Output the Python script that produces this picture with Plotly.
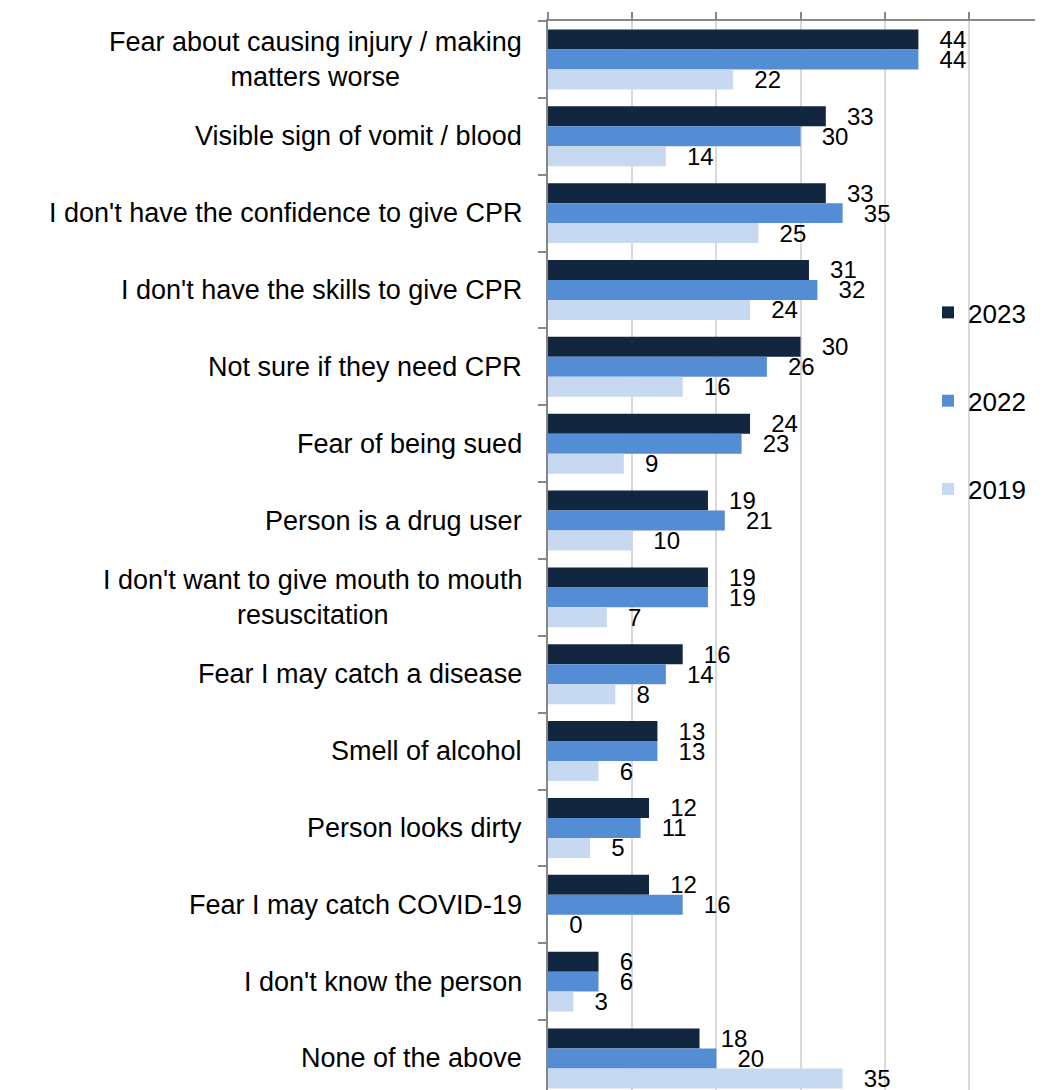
import plotly.graph_objects as go

categories = [
    "Fear about causing injury / making<br>matters worse",
    "Visible sign of vomit / blood",
    "I don't have the confidence to give CPR",
    "I don't have the skills to give CPR",
    "Not sure if they need CPR",
    "Fear of being sued",
    "Person is a drug user",
    "I don't want to give mouth to mouth<br>resuscitation",
    "Fear I may catch a disease",
    "Smell of alcohol",
    "Person looks dirty",
    "Fear I may catch COVID-19",
    "I don't know the person",
    "None of the above",
]
v2023 = [44, 33, 33, 31, 30, 24, 19, 19, 16, 13, 12, 12, 6, 18]
v2022 = [44, 30, 35, 32, 26, 23, 21, 19, 14, 13, 11, 16, 6, 20]
v2019 = [22, 14, 25, 24, 16, 9, 10, 7, 8, 6, 5, 0, 3, 35]
series = [("2023", v2023, "#13263F"), ("2022", v2022, "#548DD4"), ("2019", v2019, "#C6D9F1")]

FONT = "Liberation Sans, Arial, sans-serif"
ypos = list(range(len(categories)))

fig = go.Figure()
for name, vals, col in series:
    fig.add_trace(go.Bar(
        x=vals, y=ypos, orientation="h", name=name, legendgroup=name,
        marker=dict(color=col, line=dict(width=0)),
        text=vals, texttemplate="\u00a0\u00a0\u2009%{x}", textposition="outside",
        constraintext="none",
        textfont=dict(family=FONT, size=24, color="black"),
        outsidetextfont=dict(family=FONT, size=24, color="black"),
        cliponaxis=False,
    ))

for i, c in enumerate(categories):
    fig.add_annotation(
        x=0, xref="paper", y=i, yref="y", text=c, showarrow=False,
        xanchor="right", yanchor="middle", align="center", xshift=-24,
        font=dict(family=FONT, size=27, color="black"),
    )

n = len(categories)
# the page body has an 8px default margin, so the figure is sized to fill the rest
fig.update_layout(
    width=1035, height=1082,
    margin=dict(l=540, r=0, t=13, b=0, autoexpand=False),
    plot_bgcolor="white", paper_bgcolor="white",
    barmode="group", bargap=0.22, bargroupgap=0,
    font=dict(family=FONT, size=24, color="black"),
    showlegend=True,
    legend=dict(
        x=0.7677, xanchor="left", y=0.7493, yanchor="top",
        bgcolor="rgba(0,0,0,0)", font=dict(family=FONT, size=26, color="black"),
        tracegroupgap=51.5, traceorder="grouped",
    ),
    xaxis=dict(
        side="top", range=[0, 58.8], tick0=0, dtick=10,
        showgrid=True, gridcolor="#D9D9D9", gridwidth=1.5,
        showline=True, linecolor="#868686", linewidth=1.5,
        ticks="outside", ticklen=7, tickcolor="#868686", tickwidth=1.5,
        showticklabels=False, zeroline=False,
    ),
    yaxis=dict(
        range=[-0.5 + 1069 / 76.85, -0.5],
        tickmode="array", tickvals=[k - 0.5 for k in range(n)],
        ticks="outside", ticklen=8, tickcolor="#868686", tickwidth=1.5,
        showticklabels=False, showgrid=False, zeroline=False,
        showline=True, linecolor="#868686", linewidth=1.5,
    ),
)

fig.write_html("out.html")
